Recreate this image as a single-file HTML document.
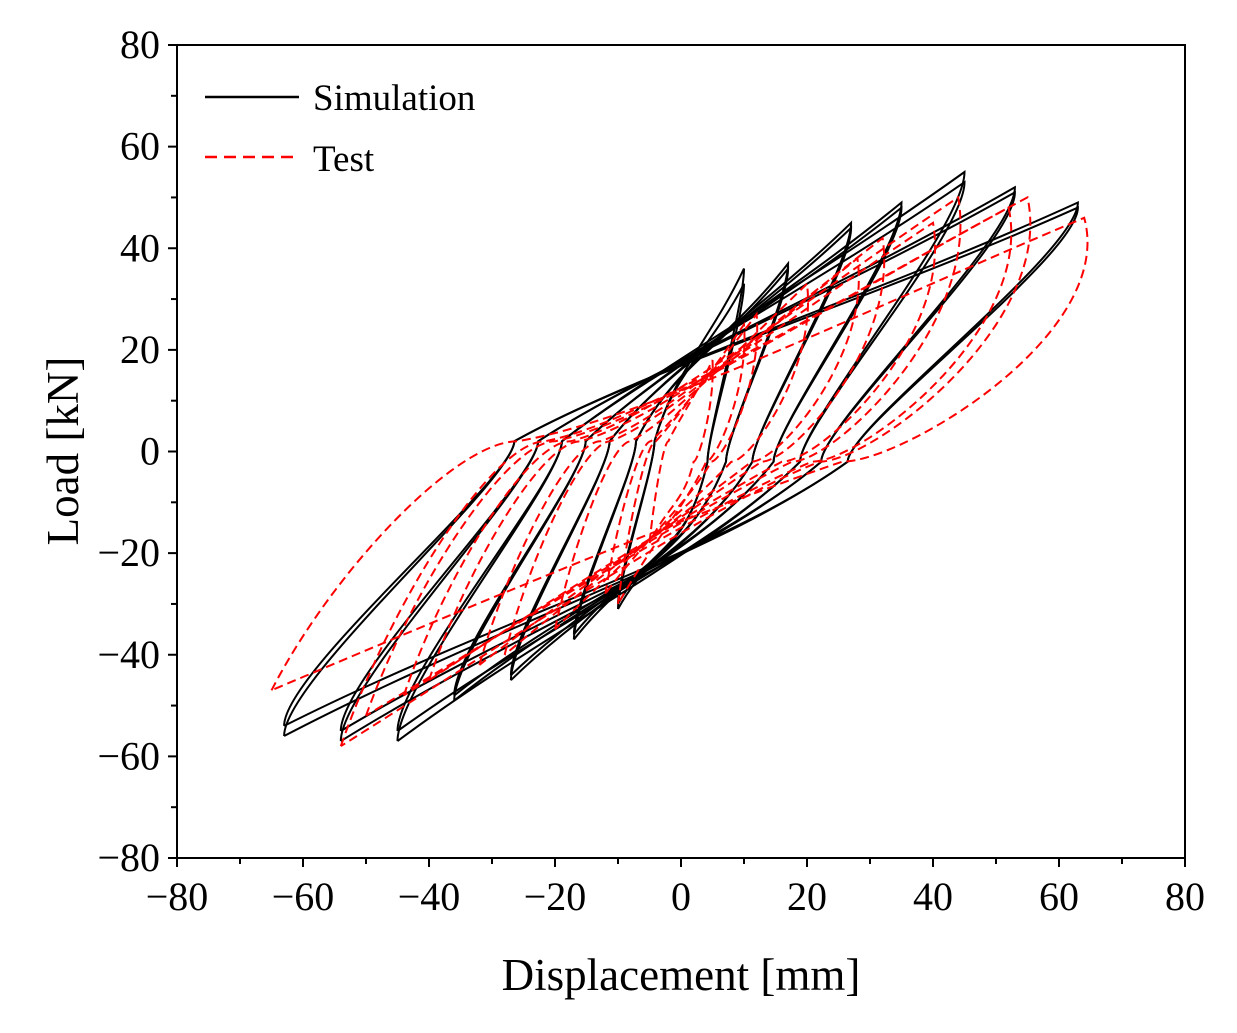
<!DOCTYPE html>
<html><head><meta charset="utf-8">
<style>
html,body{margin:0;padding:0;background:#fff;}
svg{display:block;font-family:"Liberation Serif",serif;}
</style></head>
<body>
<svg id="chart" width="1237" height="1033" viewBox="0 0 1237 1033" xmlns="http://www.w3.org/2000/svg">
<g id="plot"></g>
<g id="axes"></g>
<g>
  <line x1="205" y1="97" x2="299" y2="97" stroke="#000" stroke-width="2.5"/>
  <text x="313" y="110" font-size="37">Simulation</text>
  <line x1="205" y1="157" x2="299" y2="157" stroke="#f00" stroke-width="2.5" stroke-dasharray="12,7"/>
  <text x="313" y="171" font-size="37">Test</text>
</g>
<text x="681" y="990" font-size="45" text-anchor="middle">Displacement [mm]</text>
<text transform="translate(78,451) rotate(-90)" font-size="45" text-anchor="middle">Load [kN]</text>
</svg>
<script>
const xTicks=[-80,-60,-40,-20,0,20,40,60,80];
const yTicks=[-80,-60,-40,-20,0,20,40,60,80];
const simDispPos=[10,10,17,17,27,27,35,35,45,45,53,53,63,63];
const simLoadPos=[33,36,36,37,44,45,48,49,53,55,51,52,48,49];
const simDispNeg=[-10,-10,-17,-17,-27,-27,-36,-36,-45,-45,-54,-54,-63,-63];
const simLoadNeg=[-30,-31,-36,-37,-44,-45,-48,-49,-55,-57,-55,-57,-54,-56];
const testDispPos=[5,10,12,20,28,32,40,44,52,55,64];
const testLoadPos=[18,25,27,33,38,42,45,50,48,50,46];
const testDispNeg=[-5,-10,-12,-20,-28,-32,-40,-44,-50,-54,-65];
const testLoadNeg=[-18,-30,-28,-35,-40,-42,-45,-48,-52,-58,-47];

const X0=177,X1=1185,Y0=858,Y1=45;
const sx=v=>X0+(v+80)/160*(X1-X0);
const sy=v=>Y0-(v+80)/160*(Y0-Y1);
const NS="http://www.w3.org/2000/svg";
const plot=document.getElementById('plot');
const axes=document.getElementById('axes');
function mk(tag,attrs,parent){const e=document.createElementNS(NS,tag);for(const k in attrs)e.setAttribute(k,attrs[k]);parent.appendChild(e);return e;}
const P=(x,y)=>sx(x).toFixed(1)+','+sy(y).toFixed(1);

function loopPath(xp,Fp,xn,Fn,zf,bulge,pinch){
  const ax=xn*zf, bx=xp*zf;
  return 'M'+P(xn,Fn)+
   ' C'+P(xn*(1-0.15*bulge),Fn*(0.8-0.3*bulge))+' '+P(xn*(zf+0.15*bulge),Fn*0.1*(1-bulge)+2*bulge)+' '+P(ax,2)+
   ' C'+P(xn*0.1,pinch)+' '+P(xp*0.45,Fp*0.6)+' '+P(xp,Fp)+
   ' C'+P(xp*(1+0.08*bulge),Fp*(0.8-0.3*bulge))+' '+P(xp*(zf+0.15*bulge),Fp*0.1*(1-bulge)-2*bulge)+' '+P(bx,-2)+
   ' C'+P(xp*0.1,-pinch-4)+' '+P(xn*0.45,Fn*0.6)+' '+P(xn,Fn);
}
for(let i=0;i<simDispPos.length;i++){
  const p=mk('path',{d:loopPath(simDispPos[i],simLoadPos[i],simDispNeg[i],simLoadNeg[i],0.42,0,16),fill:'none',stroke:'#000','stroke-width':2},plot);
  
  
}
for(let i=0;i<testDispPos.length;i++){
  const p=mk('path',{d:loopPath(testDispPos[i],testLoadPos[i],testDispNeg[i],testLoadNeg[i],0.4,1,6),fill:'none',stroke:'#f00','stroke-width':2,'stroke-dasharray':'9,5'},plot);
  
  
}
const frame=mk('rect',{x:X0,y:Y1,width:X1-X0,height:Y0-Y1,fill:'none',stroke:'#000','stroke-width':2},axes);


for(let v=-80;v<=80;v+=10){
  const major=v%20===0, L=major?9:6;
  mk('line',{x1:sx(v),y1:Y0,x2:sx(v),y2:Y0+L,stroke:'#000','stroke-width':2},axes);
  mk('line',{x1:X0,y1:sy(v),x2:X0-L,y2:sy(v),stroke:'#000','stroke-width':2},axes);
}
xTicks.forEach(v=>{
  const t=mk('text',{x:sx(v),y:910,'font-size':40,'text-anchor':'middle'},axes);
  t.textContent=v<0?'\u2212'+(-v):String(v);
  
  
});
yTicks.forEach(v=>{
  const t=mk('text',{x:160,y:sy(v)+13,'font-size':40,'text-anchor':'end'},axes);
  t.textContent=v<0?'\u2212'+(-v):String(v);
  
  
});
</script>
</body></html>
